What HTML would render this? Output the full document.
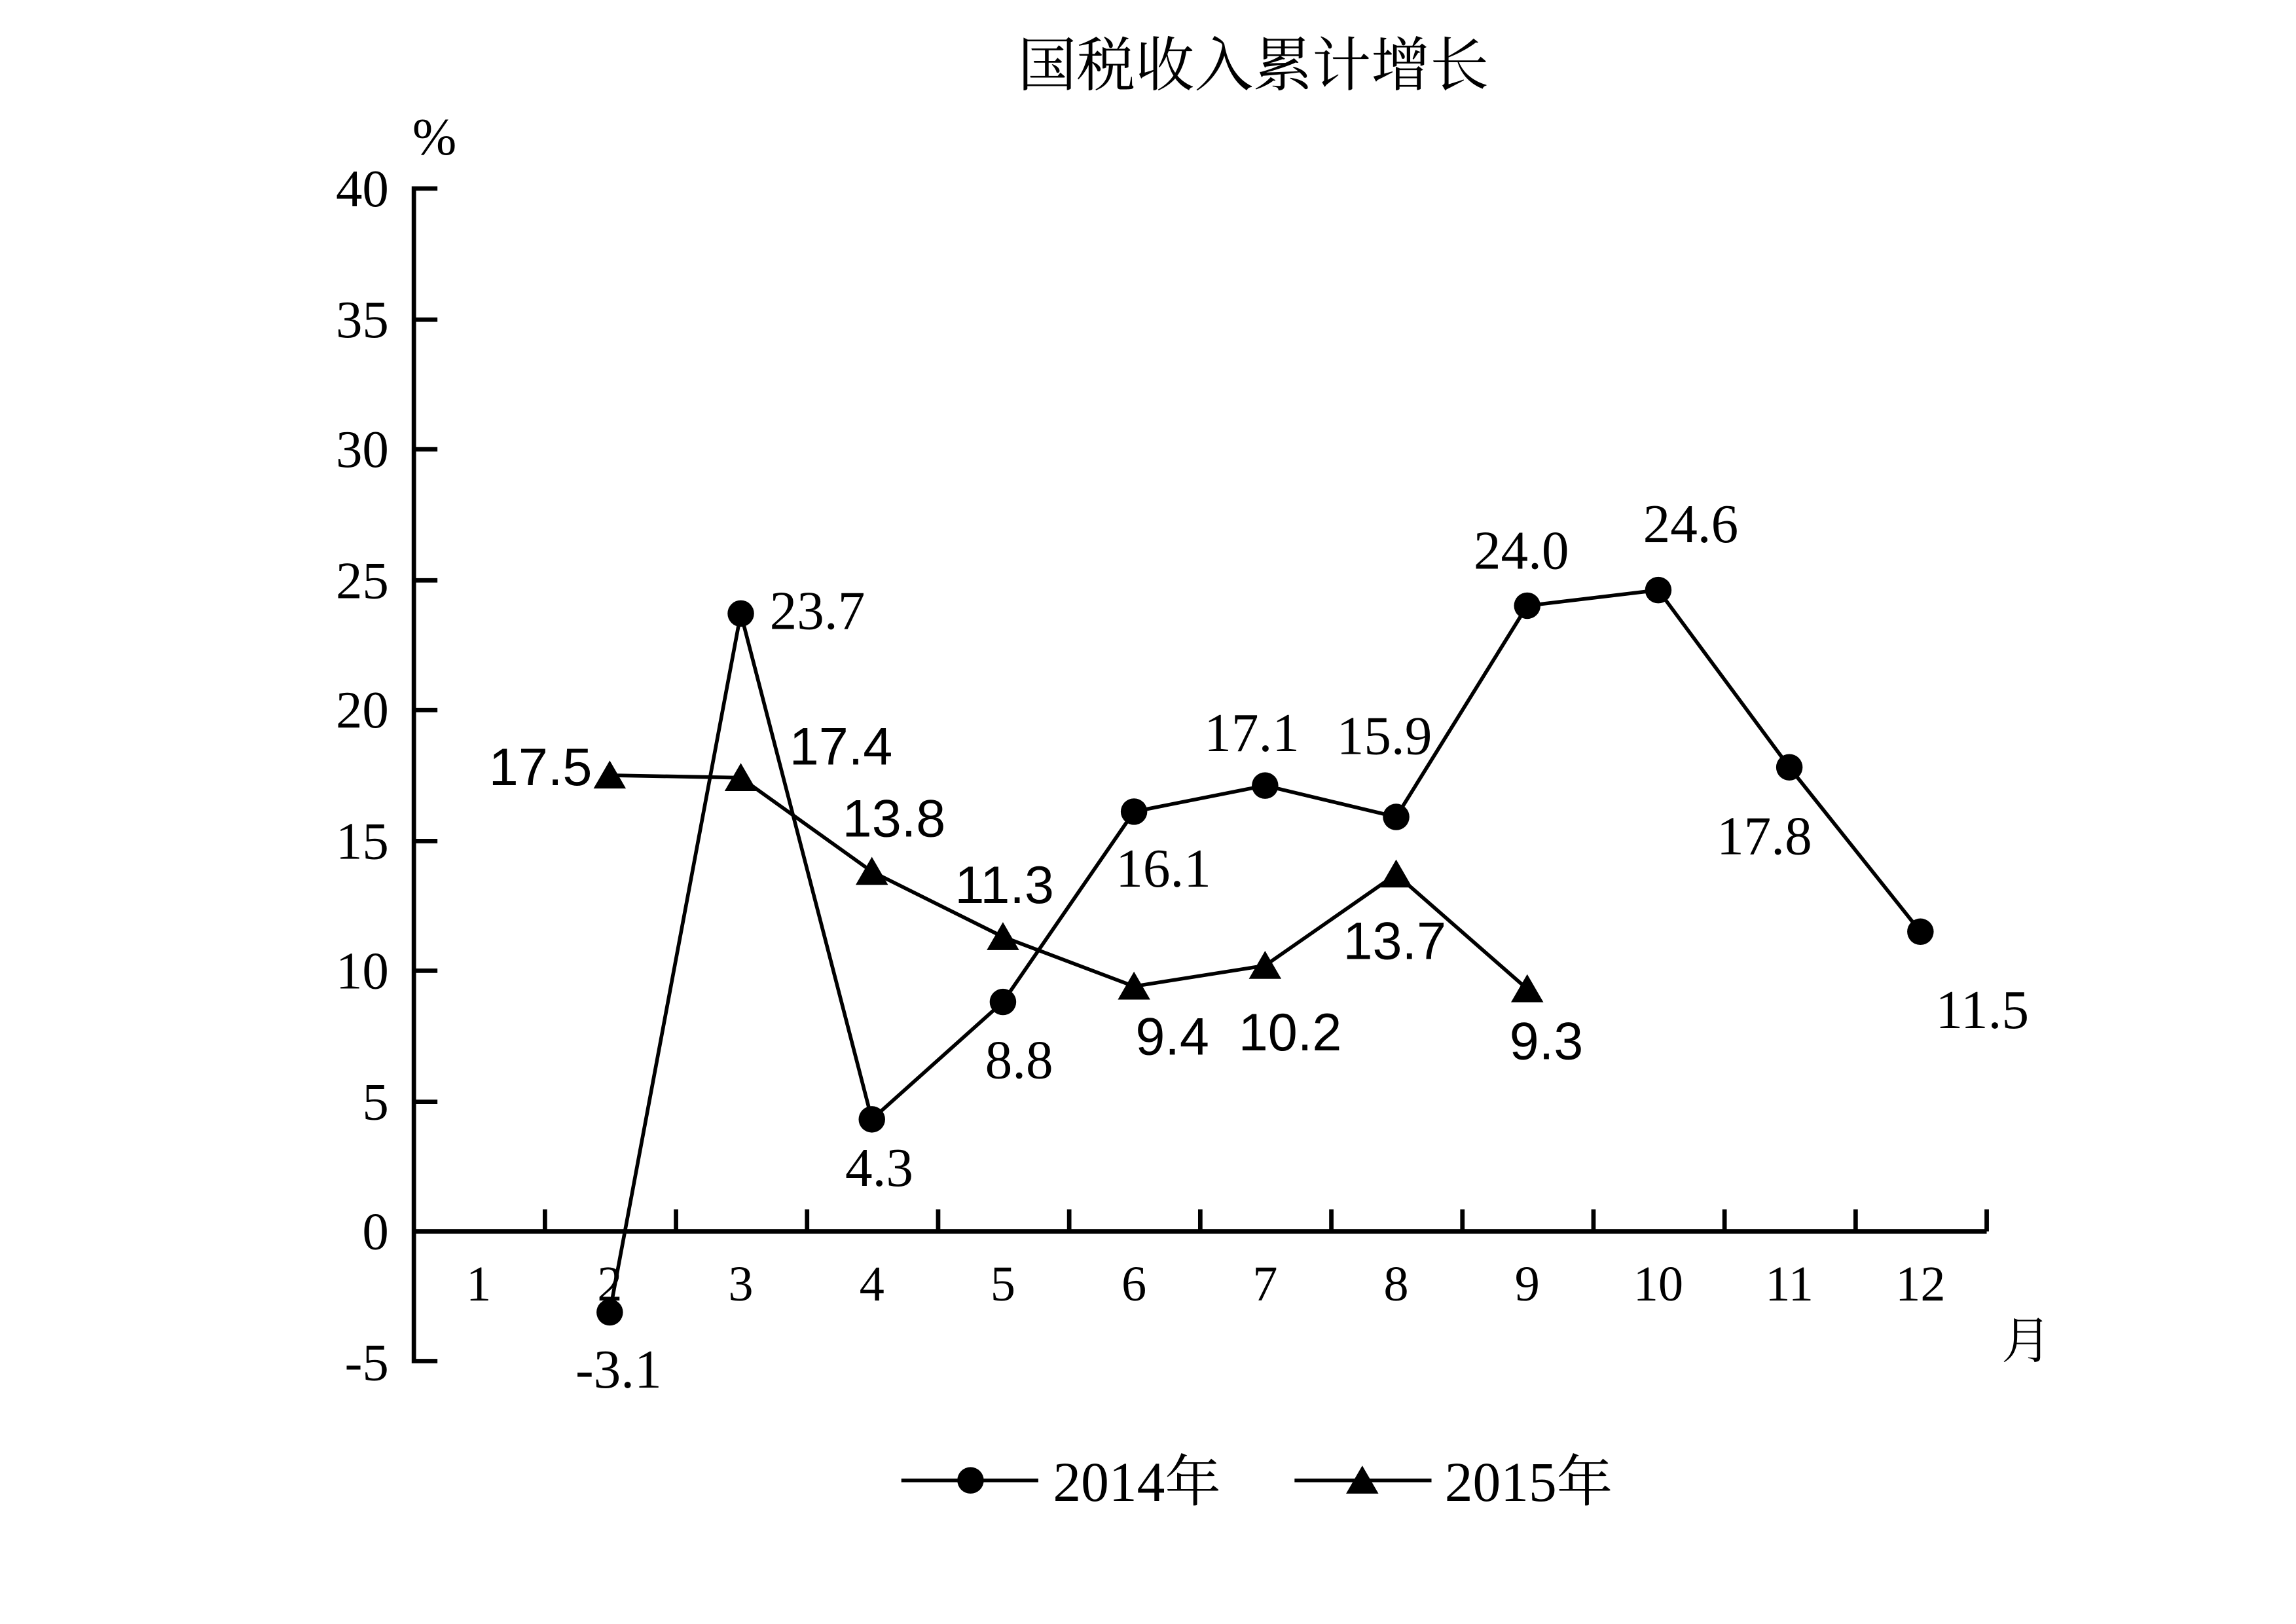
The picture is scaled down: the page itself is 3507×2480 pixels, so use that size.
<!DOCTYPE html>
<html><head><meta charset="utf-8"><style>html,body{margin:0;padding:0;background:#fff}svg{display:block}</style></head>
<body>
<svg width="3507" height="2480" viewBox="0 0 1559 1102.5" xmlns="http://www.w3.org/2000/svg">
<g font-family="'Liberation Serif','Noto Serif CJK SC',serif" fill="#000">
<text x="851" y="58" font-size="40" text-anchor="middle">国税收入累计增长</text>
<text x="295" y="105" font-size="36" text-anchor="middle">%</text>
<g font-size="36" text-anchor="end">
<text x="264" y="140">40</text><text x="264" y="229">35</text><text x="264" y="317">30</text>
<text x="264" y="406">25</text><text x="264" y="494">20</text><text x="264" y="583">15</text>
<text x="264" y="671">10</text><text x="264" y="760">5</text><text x="264" y="848">0</text>
<text x="264" y="937">-5</text>
</g>
<g font-size="34" text-anchor="middle">
<text x="325" y="883">1</text><text x="414" y="883">2</text><text x="503" y="883">3</text><text x="592" y="883">4</text>
<text x="681" y="883">5</text><text x="770" y="883">6</text><text x="859" y="883">7</text><text x="948" y="883">8</text>
<text x="1037" y="883">9</text><text x="1126" y="883">10</text><text x="1215" y="883">11</text><text x="1304" y="883">12</text>
<text x="1376" y="922">月</text>
</g>
</g>
<g stroke="#000" stroke-width="3" fill="none">
<path d="M297 128H281V924H297"/>
<path d="M281 217H297M281 305H297M281 394H297M281 482H297M281 571H297M281 659H297M281 748H297"/>
<path d="M281 836H1349"/>
<path d="M370 836V821M459 836V821M548 836V821M637 836V821M726 836V821M815 836V821M904 836V821M993 836V821M1082 836V821M1171 836V821M1260 836V821M1349 836V821"/>
</g>
<g stroke="#000" stroke-width="2.5" fill="none">
<polyline points="414,890.9 503,416.5 592,759.9 681,680.2 770,551 859,533.3 948,554.6 1037,411.2 1126,400.6 1215,520.9 1304,632.5"/>
<polyline points="414,526.3 503,528 592,591.7 681,636 770,669.6 859,655.5 948,593.5 1037,671.4"/>
</g>
<g fill="#000">
<circle cx="414" cy="890.9" r="9"/><circle cx="503" cy="416.5" r="9"/><circle cx="592" cy="759.9" r="9"/>
<circle cx="681" cy="680.2" r="9"/><circle cx="770" cy="551" r="9"/><circle cx="859" cy="533.3" r="9"/>
<circle cx="948" cy="554.6" r="9"/><circle cx="1037" cy="411.2" r="9"/><circle cx="1126" cy="400.6" r="9"/>
<circle cx="1215" cy="520.9" r="9"/><circle cx="1304" cy="632.5" r="9"/>
<path d="M414 516.3l11 19h-22z"/><path d="M503 518l11 19h-22z"/><path d="M592 581.7l11 19h-22z"/>
<path d="M681 626l11 19h-22z"/><path d="M770 659.6l11 19h-22z"/><path d="M859 645.5l11 19h-22z"/>
<path d="M948 583.5l11 19h-22z"/><path d="M1037 661.4l11 19h-22z"/>
</g>
<g font-family="'Liberation Serif',serif" font-size="37" text-anchor="middle" fill="#000">
<text x="420" y="942">-3.1</text><text x="555" y="427">23.7</text><text x="597" y="805">4.3</text>
<text x="692" y="732">8.8</text><text x="790" y="602">16.1</text><text x="850" y="510">17.1</text>
<text x="940" y="512">15.9</text><text x="1033" y="386">24.0</text><text x="1148" y="368">24.6</text>
<text x="1198" y="580">17.8</text><text x="1346" y="698">11.5</text>
</g>
<g font-family="'Liberation Sans',sans-serif" font-size="36" text-anchor="middle" fill="#000">
<text x="367" y="533">17.5</text><text x="571" y="519">17.4</text><text x="607" y="568">13.8</text>
<text x="682" y="613">11.3</text><text x="796" y="716">9.4</text><text x="876" y="713">10.2</text>
<text x="947" y="651">13.7</text><text x="1050" y="719">9.3</text>
</g>
<g stroke="#000" stroke-width="2.5"><path d="M612 1005H705M879 1005H972"/></g>
<circle cx="659" cy="1005" r="9" fill="#000"/>
<path d="M925 995l11 19h-22z" fill="#000"/>
<g font-family="'Liberation Serif','Noto Serif CJK SC',serif" font-size="38" fill="#000">
<text x="715" y="1019">2014年</text><text x="981" y="1019">2015年</text>
</g>
</svg>
</body></html>
